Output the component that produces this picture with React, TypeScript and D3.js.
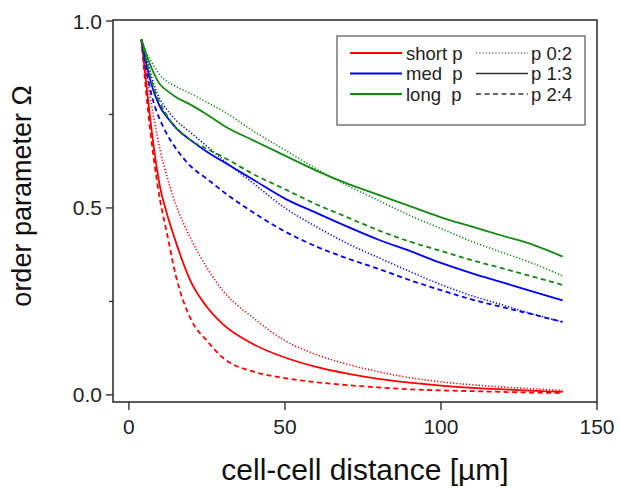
import React from "react";
import * as d3 from "d3";

const xs = [4, 6, 8, 10, 12, 15, 20, 25, 30, 40, 50, 60, 70, 80, 90, 100, 110, 120, 130, 139];

const shortDot = [0.95, 0.84, 0.74, 0.655, 0.59, 0.51, 0.415, 0.34, 0.28, 0.205, 0.145, 0.108, 0.082, 0.062, 0.046, 0.035, 0.027, 0.021, 0.016, 0.012];
const shortSolid = [0.95, 0.8, 0.66, 0.555, 0.49, 0.41, 0.3, 0.235, 0.19, 0.135, 0.1, 0.075, 0.057, 0.043, 0.033, 0.025, 0.019, 0.015, 0.011, 0.008];
const shortDash = [0.95, 0.77, 0.63, 0.52, 0.44, 0.32, 0.2, 0.145, 0.1, 0.062, 0.045, 0.034, 0.026, 0.02, 0.015, 0.012, 0.01, 0.008, 0.006, 0.005];

const medDot = [0.95, 0.89, 0.83, 0.79, 0.765, 0.735, 0.7, 0.665, 0.63, 0.565, 0.5, 0.45, 0.405, 0.367, 0.33, 0.295, 0.265, 0.24, 0.215, 0.195];
const medSolid = [0.95, 0.87, 0.81, 0.77, 0.745, 0.715, 0.68, 0.65, 0.625, 0.575, 0.525, 0.487, 0.45, 0.415, 0.385, 0.353, 0.325, 0.3, 0.275, 0.253];
const medDash = [0.95, 0.85, 0.78, 0.735, 0.7, 0.66, 0.61, 0.578, 0.545, 0.487, 0.437, 0.397, 0.365, 0.337, 0.307, 0.28, 0.255, 0.234, 0.214, 0.195];

const longDot = [0.95, 0.91, 0.88, 0.855, 0.84, 0.825, 0.805, 0.782, 0.76, 0.705, 0.655, 0.605, 0.56, 0.52, 0.48, 0.445, 0.41, 0.38, 0.35, 0.318];
const longSolid = [0.95, 0.9, 0.86, 0.83, 0.815, 0.797, 0.775, 0.75, 0.722, 0.68, 0.64, 0.6, 0.565, 0.535, 0.505, 0.475, 0.45, 0.425, 0.4, 0.37];
const longDash = [0.95, 0.88, 0.82, 0.78, 0.75, 0.715, 0.68, 0.658, 0.637, 0.59, 0.55, 0.51, 0.475, 0.44, 0.41, 0.385, 0.36, 0.338, 0.315, 0.294];

const xTicks = [0, 50, 100, 150];
const yTicks = [0, 0.5, 1.0];
const yMinor = [0.25, 0.75];

const RED = "#ff0000";
const BLUE = "#0000ee";
const GREEN = "#128a12";

const DOT = "1.2,2";
const DASH = "5,3.5";

const series = [
  { v: shortDot, c: RED, d: DOT },
  { v: shortSolid, c: RED, d: null },
  { v: shortDash, c: RED, d: DASH },
  { v: medDot, c: BLUE, d: DOT },
  { v: medSolid, c: BLUE, d: null },
  { v: medDash, c: BLUE, d: DASH },
  { v: longDot, c: GREEN, d: DOT },
  { v: longSolid, c: GREEN, d: null },
  { v: longDash, c: GREEN, d: DASH },
];

const legendLeft = [
  { label: "short p", c: RED },
  { label: "med  p", c: BLUE },
  { label: "long  p", c: GREEN },
];
const legendRight = [
  { label: "p 0:2", d: DOT },
  { label: "p 1:3", d: null },
  { label: "p 2:4", d: DASH },
];

export default function App() {
  const L = 113, R = 597, T = 20, B = 402;
  const x = d3.scaleLinear().domain([-5.1, 150]).range([L, R]);
  const y = d3.scaleLinear().domain([-0.019, 1.0]).range([B, 21]);
  const line = d3
    .line<number>()
    .x((_, i) => x(xs[i]))
    .y((d) => y(d))
    .curve(d3.curveMonotoneX);
  const font = "'Liberation Sans', Arial, sans-serif";
  const frame = "#333";
  return (
    <svg
      width={620}
      height={490}
      style={{ position: "absolute", left: 0, top: 0, background: "#fff" }}
      fontFamily={font}
    >
      <rect x={0} y={0} width={620} height={490} fill="#fff" />
      {series.map((s, i) => (
        <path
          key={i}
          d={line(s.v) || ""}
          fill="none"
          stroke={s.c}
          strokeWidth={s.d === DOT ? 1.6 : 1.8}
          strokeDasharray={s.d || undefined}
        />
      ))}
      <rect x={L} y={T} width={R - L} height={B - T} fill="none" stroke={frame} strokeWidth={1.6} />
      {xTicks.map((t) => (
        <g key={t}>
          <line x1={x(t)} x2={x(t)} y1={B} y2={B + 8} stroke={frame} strokeWidth={1.4} />
          <text x={x(t)} y={434} fontSize={21} textAnchor="middle" fill="#222">
            {t}
          </text>
        </g>
      ))}
      {yTicks.map((t) => (
        <g key={t}>
          <line x1={L - 7} x2={L} y1={y(t)} y2={y(t)} stroke={frame} strokeWidth={1.4} />
          <text x={L - 11} y={y(t) + 7.5} fontSize={21} textAnchor="end" fill="#222">
            {t.toFixed(1)}
          </text>
        </g>
      ))}
      {yMinor.map((t) => (
        <line key={t} x1={L - 4} x2={L} y1={y(t)} y2={y(t)} stroke={frame} strokeWidth={1.4} />
      ))}
      <text x={365} y={480} fontSize={30} textAnchor="middle" fill="#111">
        cell-cell distance [µm]
      </text>
      <text
        transform={`translate(31,196) rotate(-90)`}
        fontSize={27}
        textAnchor="middle"
        fill="#111"
      >
        order parameter Ω
      </text>
      <rect x={337} y={36} width={248} height={89} fill="#fff" stroke="#555" strokeWidth={1.2} />
      {legendLeft.map((l, i) => (
        <g key={l.label}>
          <line x1={350} x2={402} y1={53 + i * 20.5} y2={53 + i * 20.5} stroke={l.c} strokeWidth={1.8} />
          <text x={406} y={59.5 + i * 20.5} fontSize={18.5} fill="#222" style={{ whiteSpace: "pre" }}>
            {l.label}
          </text>
        </g>
      ))}
      {legendRight.map((l, i) => (
        <g key={l.label}>
          <line
            x1={476}
            x2={528}
            y1={53 + i * 20.5}
            y2={53 + i * 20.5}
            stroke="#333"
            strokeWidth={l.d === DOT ? 1.2 : 1.5}
            strokeDasharray={l.d || undefined}
          />
          <text x={531} y={59.5 + i * 20.5} fontSize={18.5} fill="#222">
            {l.label}
          </text>
        </g>
      ))}
    </svg>
  );
}
